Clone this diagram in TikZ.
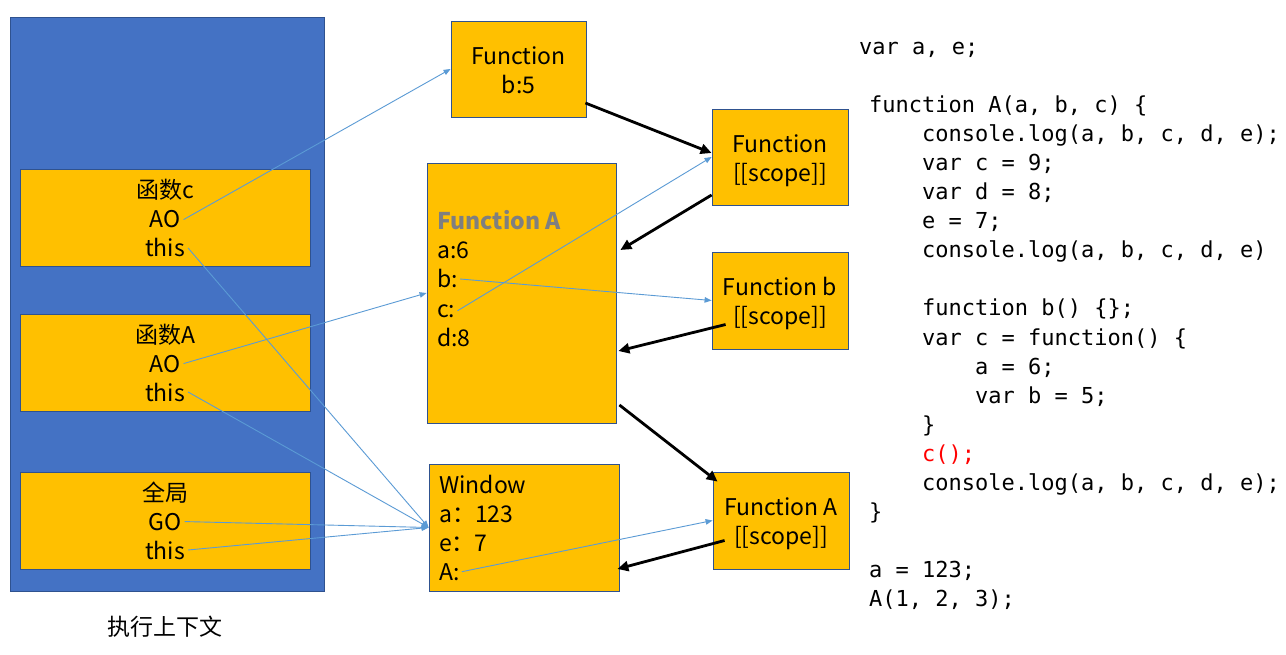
\documentclass[tikz,border=0pt]{standalone}
\usepackage{fontspec}
\setmainfont{Noto Sans CJK SC}
\setmonofont{DejaVu Sans Mono}
\usetikzlibrary{arrows.meta,calc}

\definecolor{panel}{HTML}{4472C4}
\definecolor{edge}{HTML}{2F528F}
\definecolor{amber}{HTML}{FFC000}
\definecolor{link}{HTML}{5B9BD5}
\definecolor{titlegrey}{HTML}{7F7F7F}
\definecolor{jsred}{HTML}{FF0000}

\begin{document}
\begin{tikzpicture}[x=1pt,y=-1pt,
  panelbox/.style={draw=edge, fill=panel, line width=0.8pt, inner sep=0, rectangle},
  memo/.style={draw=edge, fill=amber, line width=0.8pt, inner sep=0, rectangle},
  lbl/.style={font=\fontsize{23}{29}\selectfont, inner sep=3pt, anchor=base},
  lbll/.style={font=\fontsize{23}{29}\selectfont, inner sep=2pt, anchor=base west},
  scopetext/.style={font=\fontsize{23}{29}\selectfont, align=center},
  code/.style={font=\ttfamily\fontsize{22}{29}\selectfont, anchor=base west, inner sep=0},
  ref/.style={draw=link, line width=0.9pt, -{Triangle[length=7pt,width=5.5pt]}},
  chain/.style={draw=black, line width=2.8pt, -{Triangle[length=11pt,width=10pt]}}
]
\useasboundingbox[fill=white] (0,0) rectangle (1286,655);

% execution context stack
\node[panelbox, minimum width=314, minimum height=574] (stack) at (167,304) {};
\node[memo, minimum width=290, minimum height=97] (ctxc) at (165,217.5) {};
\node[memo, minimum width=290, minimum height=97] (ctxA) at (165,362.5) {};
\node[memo, minimum width=290, minimum height=97] (ctxG) at (165,520.5) {};

\node[lbl] (cname) at (165,199) {函数c};
\node[lbl] (cao)   at (165,228) {AO};
\node[lbl] (cthis) at (165,257) {this};
\node[lbl] (aname) at (165,343) {函数A};
\node[lbl] (aao)   at (165,372) {AO};
\node[lbl] (athis) at (165,401) {this};
\node[lbl] (gname) at (165,501) {全局};
\node[lbl] (ggo)   at (165,530) {GO};
\node[lbl] (gthis) at (165,559) {this};

\node[font=\fontsize{23}{29}\selectfont] (stacklabel) at (165,627) {执行上下文};

% activation / global objects
\node[memo, minimum width=135, minimum height=96] (fb5) at (518.5,69) {};
\node[scopetext] (fb5text) at ($(fb5)+(0,1)$) {Function\\b:5};

\node[memo, minimum width=189, minimum height=260] (fA) at (521.5,293) {};
\node[lbll, font=\bfseries\fontsize{23}{29}\selectfont, text=titlegrey] (fAtitle) at (435,230) {Function A};
\node[lbll] (fAa) at (435,259) {a:6};
\node[lbll] (fAb) at (435,288) {b:};
\node[lbll] (fAc) at (435,317) {c:};
\node[lbll] (fAd) at (435,346) {d:8};

\node[memo, minimum width=190, minimum height=127] (win) at (524,527.5) {};
\node[lbll] (wtitle) at (437,493) {Window};
\node[lbll] (wa) at (437,522) {a：123};
\node[lbll] (we) at (437,551) {e：7};
\node[lbll] (wA) at (437,580) {A:};

% function objects with their [[scope]]
\node[memo, minimum width=136, minimum height=96] (sc) at (780,157) {};
\node[scopetext] (sctext) at ($(sc)+(0,3.5)$) {Function\\{[[scope]]}};
\node[memo, minimum width=136, minimum height=97] (sb) at (780,300.5) {};
\node[scopetext] (sbtext) at ($(sb)+(0,3)$) {Function b\\{[[scope]]}};
\node[memo, minimum width=136, minimum height=97] (sA) at (781,520.5) {};
\node[scopetext] (sAtext) at ($(sA)+(0,3)$) {Function A\\{[[scope]]}};

% scope chain links
\draw[chain] ($(fb5.east)+(-1,34)$) -- ($(sc.west)+(0,-4)$);
\draw[chain] ($(sc.west)+(0,38)$) -- ($(fA.east)+(4,-43)$);
\draw[chain] ($(sb.west)+(14,24)$) -- ($(fA.east)+(2,58)$);
\draw[chain] ($(fA.east)+(3,112)$) -- ($(sA.north west)+(5,10)$);
\draw[chain] ($(sA.west)+(12,20)$) -- ($(win.east)+(-2,41.5)$);

% references
\draw[ref] (cao.east) -- (fb5.west);
\draw[ref] (cthis.east) -- (win.west);
\draw[ref] (aao.east) -- (fA.west);
\draw[ref] (athis.east) -- (win.west);
\draw[ref] (ggo.east) -- (win.west);
\draw[ref] (gthis.east) -- (win.west);
\draw[ref] (fAb.east) -- (sb.west);
\draw[ref] (fAc.east) -- (sc.west);
\draw[ref] (wA.east) -- (sA.west);

% source code
\node[code] (l1)  at (859,55)  {var a, e;};
\node[code] (l2)  at (869,113) {function A(a, b, c) \{};
\node[code] (l3)  at (922,142) {console.log(a, b, c, d, e);};
\node[code] (l4)  at (922,171) {var c = 9;};
\node[code] (l5)  at (922,200) {var d = 8;};
\node[code] (l6)  at (922,229) {e = 7;};
\node[code] (l7)  at (922,258) {console.log(a, b, c, d, e)};
\node[code] (l8)  at (922,316) {function b() \{\};};
\node[code] (l9)  at (922,345) {var c = function() \{};
\node[code] (l10) at (975,374) {a = 6;};
\node[code] (l11) at (975,403) {var b = 5;};
\node[code] (l12) at (922,432) {\}};
\node[code, text=jsred] (l13) at (922,461) {c();};
\node[code] (l14) at (922,490) {console.log(a, b, c, d, e);};
\node[code] (l15) at (869,519) {\}};
\node[code] (l16) at (869,577) {a = 123;};
\node[code] (l17) at (869,606) {A(1, 2, 3);};
\end{tikzpicture}
\end{document}
